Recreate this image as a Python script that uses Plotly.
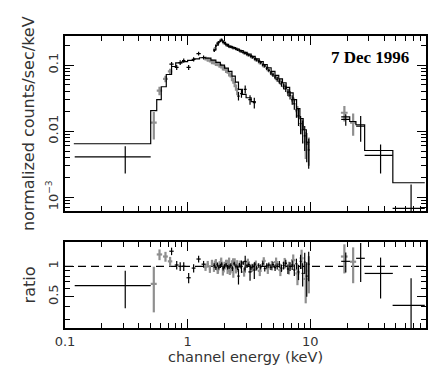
import numpy as np
import plotly.graph_objects as go
from plotly.subplots import make_subplots

# ---------------- data ----------------
# LECS, black crosses
lecs_b_e = [0.31, 0.74, 0.815, 0.87, 0.93, 1.02, 1.12, 1.23, 1.35, 2.60, 2.75, 2.95, 3.23, 3.50]
lecs_b_de = [0.19, 0.03, 0.03, 0.03, 0.03, 0.04, 0.04, 0.05, 0.05, 0.06, 0.07, 0.08, 0.10, 0.10]
lecs_b_f = [4.1e-3, 0.103, 0.092, 0.109, 0.117, 0.092, 0.122, 0.149, 0.130, 0.034, 0.037, 0.043, 0.030, 0.027]
lecs_b_err = [1.8e-3, 0.008, 0.008, 0.009, 0.009, 0.008, 0.009, 0.010, 0.009, 0.005, 0.005, 0.006, 0.005, 0.005]
lecs_b_ratio = [0.645, 1.41, 1.03, 1.0, 1.0, 0.77, 0.96, 1.18, 1.05, 0.80, 1.0, 1.12, 0.88, 0.92]
lecs_b_rerr = [0.26, 0.12, 0.10, 0.10, 0.10, 0.09, 0.09, 0.09, 0.08, 0.14, 0.14, 0.15, 0.16, 0.17]

# LECS, grey crosses
lecs_g_e = [0.53, 0.59, 0.66, 0.72, 1.40, 1.46, 1.52, 1.58, 1.64, 1.70, 1.76, 1.82,
            1.88, 1.94, 2.00, 2.06, 2.12, 2.18, 2.24, 2.30, 2.36, 2.42, 2.48, 2.54]
lecs_g_de = [0.03, 0.03, 0.03, 0.03, 0.03, 0.03, 0.03, 0.03, 0.03, 0.03, 0.03, 0.03,
             0.03, 0.03, 0.03, 0.03, 0.03, 0.03, 0.03, 0.03, 0.03, 0.03, 0.03, 0.03]
lecs_g_f = [0.0135, 0.041, 0.062, 0.080, 0.126, 0.121, 0.118, 0.112, 0.111, 0.105, 0.104, 0.099,
            0.097, 0.091, 0.089, 0.083, 0.081, 0.074, 0.071, 0.063, 0.058, 0.051, 0.046, 0.040]
lecs_g_err = [0.006, 0.006, 0.007, 0.008, 0.009, 0.009, 0.009, 0.009, 0.009, 0.008, 0.008, 0.008,
              0.008, 0.008, 0.007, 0.007, 0.007, 0.007, 0.006, 0.006, 0.006, 0.005, 0.005, 0.005]
lecs_g_ratio = [0.67, 1.31, 1.25, 1.12, 0.98, 1.05, 0.94, 1.08, 0.96, 1.10, 0.92, 1.04,
                1.13, 0.90, 1.02, 1.07, 0.93, 1.12, 0.95, 1.04, 0.88, 1.09, 0.97, 1.03]
lecs_g_rerr = [0.32, 0.16, 0.14, 0.12, 0.08, 0.08, 0.08, 0.08, 0.08, 0.08, 0.08, 0.08,
               0.09, 0.09, 0.09, 0.09, 0.09, 0.10, 0.10, 0.10, 0.11, 0.11, 0.12, 0.12]

# LECS model (step)
lecs_m_edges = [0.118, 0.50, 0.56, 0.61, 0.67, 0.74, 0.80, 0.90, 1.0, 1.12, 1.25, 1.40, 1.55,
                1.70, 1.85, 2.0, 2.15, 2.30, 2.45, 2.60, 2.80, 3.0, 3.3, 3.6]
lecs_m_val = [6.45e-3, 0.0205, 0.030, 0.047, 0.072, 0.095, 0.108, 0.113, 0.118, 0.124, 0.129, 0.127,
              0.119, 0.110, 0.100, 0.090, 0.080, 0.068, 0.055, 0.043, 0.036, 0.032, 0.028]

# MECS, black crosses
mecs_b_e = [1.65, 1.70, 1.75, 1.80, 1.85, 1.90, 1.95, 2.00, 2.06, 2.12,
            2.18, 2.25, 2.32, 2.40, 2.48, 2.56, 2.65, 2.74, 2.84, 2.94,
            3.05, 3.16, 3.28, 3.40, 3.53, 3.66, 3.80, 3.95, 4.10, 4.26,
            4.42, 4.60, 4.78, 4.97, 5.17, 5.38, 5.60, 5.83, 6.07, 6.32,
            6.58, 6.85, 7.13, 7.42, 7.72, 8.03, 8.35, 8.68, 9.02, 9.37, 9.72]
mecs_b_de = [0.025, 0.025, 0.025, 0.025, 0.025, 0.025, 0.025, 0.028, 0.03, 0.03,
             0.03, 0.035, 0.035, 0.04, 0.04, 0.04, 0.045, 0.045, 0.05, 0.05,
             0.055, 0.055, 0.06, 0.06, 0.065, 0.065, 0.07, 0.075, 0.075, 0.08,
             0.08, 0.09, 0.09, 0.10, 0.10, 0.10, 0.11, 0.12, 0.12, 0.13,
             0.13, 0.14, 0.14, 0.15, 0.15, 0.16, 0.16, 0.17, 0.17, 0.18, 0.18]
mecs_b_f = [0.165, 0.195, 0.212, 0.222, 0.235, 0.243, 0.225, 0.212, 0.204, 0.197,
            0.190, 0.188, 0.185, 0.180, 0.176, 0.170, 0.166, 0.161, 0.155, 0.150,
            0.146, 0.141, 0.136, 0.131, 0.124, 0.119, 0.114, 0.109, 0.101, 0.097,
            0.089, 0.083, 0.076, 0.071, 0.066, 0.061, 0.057, 0.052, 0.048, 0.044,
            0.039, 0.035, 0.030, 0.026, 0.021, 0.017, 0.013, 0.0105, 0.0085, 0.0064, 0.0052]
mecs_b_err = [0.008, 0.008, 0.008, 0.008, 0.008, 0.009, 0.008, 0.008, 0.008, 0.007,
              0.007, 0.007, 0.007, 0.007, 0.007, 0.007, 0.007, 0.007, 0.006, 0.006,
              0.006, 0.006, 0.006, 0.006, 0.006, 0.006, 0.006, 0.006, 0.005, 0.005,
              0.005, 0.005, 0.005, 0.005, 0.005, 0.005, 0.005, 0.005, 0.005, 0.005,
              0.005, 0.005, 0.005, 0.005, 0.005, 0.005, 0.004, 0.004, 0.0035, 0.003, 0.0025]
mecs_b_ratio = [1.02, 0.97, 1.04, 0.98, 1.01, 1.05, 0.96, 1.00, 1.03, 0.98,
                0.99, 1.02, 0.95, 1.06, 1.00, 0.97, 1.03, 0.99, 1.08, 0.94,
                1.01, 1.04, 0.97, 1.00, 1.05, 0.96, 1.02, 0.99, 1.06, 0.95,
                1.01, 1.03, 0.98, 1.04, 0.97, 1.00, 1.05, 0.96, 1.02, 1.07,
                0.94, 1.00, 1.03, 0.92, 1.06, 0.88, 1.12, 0.85, 1.10, 0.80, 1.05]
mecs_b_rerr = [0.05, 0.05, 0.05, 0.05, 0.05, 0.05, 0.05, 0.05, 0.05, 0.05,
               0.05, 0.05, 0.05, 0.05, 0.05, 0.05, 0.05, 0.05, 0.05, 0.05,
               0.05, 0.05, 0.05, 0.05, 0.05, 0.05, 0.05, 0.06, 0.06, 0.06,
               0.06, 0.06, 0.06, 0.07, 0.07, 0.07, 0.08, 0.08, 0.09, 0.09,
               0.10, 0.10, 0.11, 0.12, 0.13, 0.15, 0.18, 0.22, 0.26, 0.30, 0.34]

# MECS, grey crosses
mecs_g_e = [1.67, 1.77, 1.87, 1.97, 2.09, 2.21, 2.35, 2.52, 2.69, 2.89, 3.10, 3.34, 3.60,
            3.88, 4.18, 4.51, 4.87, 5.27, 5.71, 6.19, 6.71, 7.27, 7.87, 8.51, 9.19, 9.75]
mecs_g_de = [0.05, 0.05, 0.05, 0.06, 0.06, 0.07, 0.08, 0.08, 0.09, 0.10, 0.11, 0.12, 0.13,
             0.14, 0.15, 0.16, 0.18, 0.20, 0.22, 0.24, 0.26, 0.28, 0.30, 0.32, 0.34, 0.20]
mecs_g_f = [0.175, 0.215, 0.238, 0.218, 0.200, 0.190, 0.183, 0.174, 0.164, 0.154, 0.144, 0.133, 0.121,
            0.110, 0.098, 0.087, 0.075, 0.065, 0.056, 0.047, 0.038, 0.029, 0.020, 0.012, 0.0068, 0.0055]
mecs_g_err = [0.012, 0.013, 0.014, 0.013, 0.012, 0.011, 0.011, 0.010, 0.010, 0.010, 0.009, 0.009, 0.008,
              0.008, 0.007, 0.007, 0.006, 0.006, 0.005, 0.005, 0.005, 0.004, 0.004, 0.003, 0.003, 0.0025]
mecs_g_ratio = [1.06, 0.93, 1.10, 0.95, 1.08, 0.90, 1.12, 0.96, 1.05, 0.88, 1.10, 0.97, 1.04,
                0.90, 1.13, 0.95, 1.02, 1.10, 0.92, 1.08, 0.97, 1.15, 0.85, 1.20, 0.75, 0.90]
mecs_g_rerr = [0.08, 0.08, 0.08, 0.08, 0.08, 0.08, 0.08, 0.08, 0.09, 0.09, 0.09, 0.09, 0.10,
               0.10, 0.10, 0.11, 0.11, 0.12, 0.12, 0.13, 0.14, 0.16, 0.20, 0.26, 0.32, 0.36]

# MECS model (step)
mecs_m_edges = [1.62, 1.70, 1.78, 1.86, 1.94, 2.04, 2.16, 2.30, 2.46, 2.64, 2.84, 3.06, 3.30, 3.56,
                3.84, 4.14, 4.46, 4.80, 5.16, 5.54, 5.94, 6.36, 6.80, 7.26, 7.74, 8.24, 8.76, 9.30, 9.86]
mecs_m_val = [0.17, 0.20, 0.225, 0.235, 0.22, 0.205, 0.192, 0.184, 0.175, 0.166, 0.156, 0.146, 0.135, 0.124,
              0.113, 0.102, 0.091, 0.080, 0.070, 0.062, 0.054, 0.046, 0.038, 0.030, 0.022, 0.0155, 0.0105, 0.0068]

# PDS
pds_b_e = [19.5, 25.8, 37.5, 66.5]
pds_b_de = [1.6, 2.1, 9.7, 19.5]
pds_b_f = [0.0151, 0.0119, 4.3e-3, 6.8e-4]
pds_b_err = [0.003, 0.005, 2.0e-3, 8.8e-4]
pds_b_ratio = [1.12, 1.20, 0.85, 0.41]
pds_b_rerr = [0.25, 0.50, 0.37, 0.35]

pds_g_e = [19.0, 22.4]
pds_g_de = [1.2, 1.3]
pds_g_f = [0.019, 0.0135]
pds_g_err = [0.005, 0.005]
pds_g_ratio = [1.25, 1.11]
pds_g_rerr = [0.40, 0.43]

pds_m_edges = [17.9, 21.0, 23.6, 27.8, 47.2, 86.0]
pds_m_val = [0.0165, 0.0140, 0.0125, 5.1e-3, 1.66e-3]

x_range = [0.1, 88.0]
ytop_range = [6.1e-4, 0.275]
yrat_range = [0.245, 1.74]

BLACK = "#000000"
GREY = "#8f8f8f"
FONT = "DejaVu Sans"

fig = make_subplots(rows=2, cols=1)


def crosses(e, de, y, dy, color, width, row):
    fig.add_trace(go.Scatter(
        x=e, y=y, mode="markers",
        marker=dict(size=1, color=color),
        error_x=dict(type="data", array=de, color=color, thickness=width, width=0),
        error_y=dict(type="data", array=dy, color=color, thickness=width, width=0),
        hoverinfo="skip", showlegend=False), row=row, col=1)


def steps(edges, vals, color, width):
    fig.add_trace(go.Scatter(
        x=edges, y=list(vals) + [vals[-1]], mode="lines", line_shape="hv",
        line=dict(color=color, width=width),
        hoverinfo="skip", showlegend=False), row=1, col=1)


# top panel
crosses(lecs_g_e, lecs_g_de, lecs_g_f, lecs_g_err, GREY, 2.2, 1)
crosses(mecs_g_e, mecs_g_de, mecs_g_f, mecs_g_err, GREY, 2.2, 1)
crosses(pds_g_e, pds_g_de, pds_g_f, pds_g_err, GREY, 2.2, 1)
steps(lecs_m_edges, lecs_m_val, BLACK, 1.2)
steps(mecs_m_edges, mecs_m_val, BLACK, 1.2)
steps(pds_m_edges, pds_m_val, BLACK, 1.2)
crosses(lecs_b_e, lecs_b_de, lecs_b_f, lecs_b_err, BLACK, 1.2, 1)
crosses(mecs_b_e, mecs_b_de, mecs_b_f, mecs_b_err, BLACK, 1.2, 1)
crosses(pds_b_e, pds_b_de, pds_b_f, pds_b_err, BLACK, 1.2, 1)

# ratio panel
fig.add_trace(go.Scatter(x=x_range, y=[1, 1], mode="lines",
                         line=dict(color=BLACK, width=1.2, dash="8px,5px"),
                         hoverinfo="skip", showlegend=False), row=2, col=1)
crosses(lecs_g_e, lecs_g_de, lecs_g_ratio, lecs_g_rerr, GREY, 2.2, 2)
crosses(mecs_g_e, mecs_g_de, mecs_g_ratio, mecs_g_rerr, GREY, 2.2, 2)
crosses(pds_g_e, pds_g_de, pds_g_ratio, pds_g_rerr, GREY, 2.2, 2)
crosses(lecs_b_e, lecs_b_de, lecs_b_ratio, lecs_b_rerr, BLACK, 1.2, 2)
crosses(mecs_b_e, mecs_b_de, mecs_b_ratio, mecs_b_rerr, BLACK, 1.2, 2)
crosses(pds_b_e, pds_b_de, pds_b_ratio, pds_b_rerr, BLACK, 1.2, 2)

minor_x = [m * 10.0 ** k for k in (-1, 0, 1) for m in range(2, 10)]
minor_ytop = [m * 10.0 ** k for k in (-4, -3, -2, -1) for m in range(2, 10)]
minor_yrat = [0.3, 0.4, 0.6, 0.7, 0.8, 0.9]

axfont = dict(family=FONT, size=13, color="#333")
common = dict(type="log", showline=True, linewidth=2, linecolor=BLACK, mirror="allticks",
              ticks="inside", ticklen=9, tickwidth=1.2, tickcolor=BLACK,
              showgrid=False, zeroline=False, tickfont=axfont)

fig.update_xaxes(**common, range=[np.log10(x_range[0]), np.log10(x_range[1])],
                 tickvals=[0.1, 1, 10], ticktext=["0.1", "1", "10"],
                 minor=dict(tickvals=minor_x, ticks="inside", ticklen=5, tickwidth=1.2, tickcolor=BLACK))
fig.update_xaxes(showticklabels=False, row=1, col=1)
fig.update_xaxes(title=dict(text="channel energy (keV)", font=dict(family=FONT, size=14.5, color="#333"),
                            standoff=4), row=2, col=1)

fig.update_yaxes(**common, tickangle=-90)
fig.update_yaxes(range=[np.log10(ytop_range[0]), np.log10(ytop_range[1])],
                 tickvals=[1e-3, 1e-2, 1e-1], ticktext=["10<sup>\u22123</sup>", "0.01", "0.1"],
                 minor=dict(tickvals=minor_ytop, ticks="inside", ticklen=5, tickwidth=1.2, tickcolor=BLACK),
                 title=dict(text="normalized counts/sec/keV",
                            font=dict(family=FONT, size=16, color="#333"), standoff=6),
                 domain=[0.399, 1.0], row=1, col=1)
fig.update_yaxes(range=[np.log10(yrat_range[0]), np.log10(yrat_range[1])],
                 tickvals=[0.5, 1], ticktext=["0.5", "1"],
                 minor=dict(tickvals=minor_yrat, ticks="inside", ticklen=5, tickwidth=1.2, tickcolor=BLACK),
                 title=dict(text="ratio", font=dict(family=FONT, size=16, color="#333"), standoff=6),
                 domain=[0.0, 0.2945], row=2, col=1)

fig.add_annotation(text="<b>7 Dec 1996</b>", xref="paper", yref="paper", x=0.845, y=0.925,
                   xanchor="center", yanchor="middle", showarrow=False,
                   font=dict(family="Liberation Serif", size=17, color=BLACK))

fig.update_layout(width=436, height=382, margin=dict(l=57, r=18, t=28, b=62),
                  paper_bgcolor="white", plot_bgcolor="white", showlegend=False)

fig.write_html("out.html")
